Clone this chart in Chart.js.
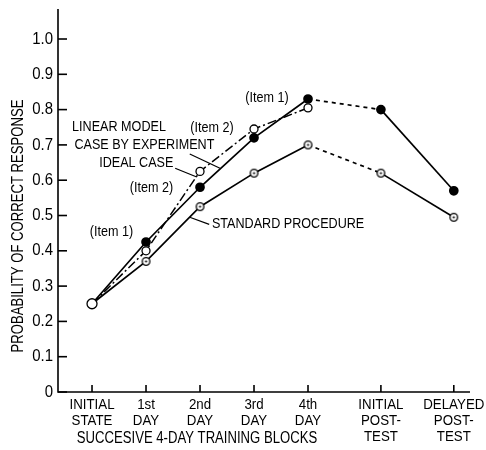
<!DOCTYPE html>
<html>
<head>
<meta charset="utf-8">
<script src="https://cdn.jsdelivr.net/npm/chart.js@4.4.1/dist/chart.umd.min.js"></script>
<style>
  html, body { margin: 0; padding: 0; background: #fff; }
  #wrap { width: 486px; height: 450px; position: relative; }
</style>
</head>
<body>
<div id="wrap"><canvas id="chart"></canvas></div>
<script>
// x positions of the blocks (post-tests are spaced wider in the original)
const xPos = [0, 1, 2, 3, 4, 5.35, 6.7];
const xLabels = [
    ['INITIAL', 'STATE'], ['1st', 'DAY'], ['2nd', 'DAY'], ['3rd', 'DAY'], ['4th', 'DAY'],
    ['INITIAL', 'POST-', 'TEST'], ['DELAYED', 'POST-', 'TEST']
];
const yTicks = [0, 0.1, 0.2, 0.3, 0.4, 0.5, 0.6, 0.7, 0.8, 0.9, 1.0];
const yTickLabels = ['0', '0.1', '0.2', '0.3', '0.4', '0.5', '0.6', '0.7', '0.8', '0.9', '1.0'];

// series
const item1 = [0.25, 0.425, 0.58, 0.72, 0.83, 0.80, 0.57];      // case by experiment (filled)
const item2 = [0.25, 0.40, 0.625, 0.745, 0.805];                // ideal case / linear model (open)
const standard = [0.25, 0.37, 0.525, 0.62, 0.70, 0.62, 0.495];  // standard procedure

// annotations in data units
const notes = [
    { text: '(Item 1)', x: 3.24, y: 0.832, align: 'center' },
    { text: 'LINEAR MODEL', x: 0.50, y: 0.750, align: 'center' },
    { text: '(Item 2)', x: 2.22, y: 0.748, align: 'center' },
    { text: 'CASE BY EXPERIMENT', x: 0.97, y: 0.699, align: 'center' },
    { text: 'IDEAL CASE', x: 0.82, y: 0.648, align: 'center' },
    { text: '(Item 2)', x: 1.10, y: 0.578, align: 'center' },
    { text: '(Item 1)', x: 0.36, y: 0.453, align: 'center' },
    { text: 'STANDARD PROCEDURE', x: 2.22, y: 0.475, align: 'left' }
];
const leaders = [
    [1.54, 0.634, 1.94, 0.609],
    [1.81, 0.674, 2.37, 0.634],
    [2.17, 0.475, 1.81, 0.495]
];

const pts = arr => arr.map((v, i) => ({ x: xPos[i], y: v }));

// circle with a dot in the middle
const dotCircle = document.createElement('canvas');
dotCircle.width = 11; dotCircle.height = 11;
(function () {
    const c = dotCircle.getContext('2d');
    c.fillStyle = '#fff';
    c.strokeStyle = '#000';
    c.lineWidth = 1.3;
    c.beginPath(); c.arc(5.5, 5.5, 3.8, 0, Math.PI * 2); c.fill(); c.stroke();
    c.fillStyle = '#000';
    c.beginPath(); c.arc(5.5, 5.5, 1.1, 0, Math.PI * 2); c.fill();
})();

const dashAfter4 = ctx => ctx.p0DataIndex === 4 ? [4, 4] : undefined;

// narrow text: squeeze horizontally
function narrowText(ctx, text, px, py, align, sx) {
    const w = ctx.measureText(text).width * sx;
    let left = px;
    if (align === 'center') left = px - w / 2;
    else if (align === 'right') left = px - w;
    ctx.save();
    ctx.textAlign = 'left';
    ctx.translate(left, py);
    ctx.scale(sx, 1);
    ctx.fillText(text, 0, 0);
    ctx.restore();
}

const axesPlugin = {
    id: 'axesPlugin',
    afterDraw(chart) {
        const { ctx, chartArea: a, scales: { x, y } } = chart;
        ctx.save();
        ctx.strokeStyle = '#000';
        ctx.fillStyle = '#000';
        ctx.lineWidth = 1.6;
        // axis lines
        ctx.beginPath();
        ctx.moveTo(a.left, a.top);
        ctx.lineTo(a.left, a.bottom);
        ctx.lineTo(a.right, a.bottom);
        ctx.stroke();
        // y ticks (inward) and labels
        ctx.font = '17px "Liberation Sans"';
        ctx.textBaseline = 'middle';
        yTicks.forEach((v, i) => {
            const py = y.getPixelForValue(v);
            ctx.beginPath(); ctx.moveTo(a.left, py); ctx.lineTo(a.left + 9, py); ctx.stroke();
            narrowText(ctx, yTickLabels[i], a.left - 5, py, 'right', 0.88);
        });
        // x ticks (inward) and labels
        ctx.font = '14px "Liberation Sans"';
        ctx.textAlign = 'center';
        xPos.forEach((v, i) => {
            const px = x.getPixelForValue(v);
            ctx.beginPath(); ctx.moveTo(px, a.bottom); ctx.lineTo(px, a.bottom - 7); ctx.stroke();
            xLabels[i].forEach((line, j) => narrowText(ctx, line, px, a.bottom + 13 + j * 16, 'center', 0.95));
        });
        // axis titles
        ctx.font = '16px "Liberation Sans"';
        narrowText(ctx, 'SUCCESIVE 4-DAY TRAINING BLOCKS', 197, a.bottom + 47, 'center', 0.82);
        ctx.save();
        ctx.translate(19, 226);
        ctx.rotate(-Math.PI / 2);
        narrowText(ctx, 'PROBABILITY OF CORRECT RESPONSE', 0, 0, 'center', 0.82);
        ctx.restore();
        // annotations
        ctx.font = '15px "Liberation Sans"';
        notes.forEach(n => {
            narrowText(ctx, n.text, x.getPixelForValue(n.x), y.getPixelForValue(n.y), n.align, 0.84);
        });
        ctx.lineWidth = 1.2;
        leaders.forEach(l => {
            ctx.beginPath();
            ctx.moveTo(x.getPixelForValue(l[0]), y.getPixelForValue(l[1]));
            ctx.lineTo(x.getPixelForValue(l[2]), y.getPixelForValue(l[3]));
            ctx.stroke();
        });
        ctx.restore();
    }
};

new Chart(document.getElementById('chart'), {
    type: 'line',
    data: {
        datasets: [
            {
                label: 'Item 2',
                data: pts(item2),
                borderColor: '#000',
                borderWidth: 1.5,
                borderDash: [9, 3, 2, 3],
                backgroundColor: '#fff',
                pointBackgroundColor: '#fff',
                pointBorderColor: '#000',
                pointBorderWidth: 1.3,
                pointRadius: [5, 4, 4, 4, 4]
            },
            {
                label: 'Item 1',
                data: pts(item1),
                borderColor: '#000',
                borderWidth: 1.7,
                segment: { borderDash: dashAfter4 },
                pointBackgroundColor: '#000',
                pointBorderColor: '#000',
                pointRadius: [0, 4, 4, 4, 4, 4, 4]
            },
            {
                label: 'Standard procedure',
                data: pts(standard),
                borderColor: '#000',
                borderWidth: 1.7,
                segment: { borderDash: dashAfter4 },
                pointStyle: [false, dotCircle, dotCircle, dotCircle, dotCircle, dotCircle, dotCircle],
                pointRadius: 4
            }
        ]
    },
    options: {
        responsive: true,
        maintainAspectRatio: false,
        animation: false,
        layout: { padding: { left: 58, top: 9, right: 16, bottom: 58 } },
        scales: {
            x: { type: 'linear', min: -0.63, max: 7.0, display: false },
            y: { min: 0, max: 1.085, display: false }
        },
        plugins: { legend: { display: false }, tooltip: { enabled: false } }
    },
    plugins: [axesPlugin]
});
</script>
</body>
</html>
